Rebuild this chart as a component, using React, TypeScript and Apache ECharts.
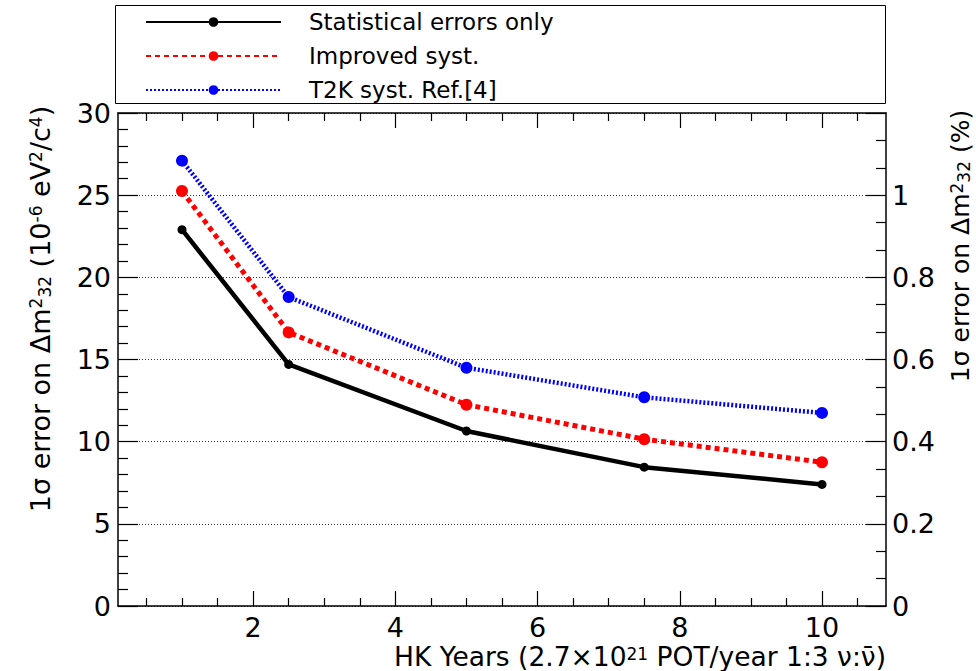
import React, { useEffect, useRef } from 'react';
import * as echarts from 'echarts';

const years = [1, 2.5, 5, 7.5, 10];
const statOnly = [22.9, 14.7, 10.65, 8.45, 7.4];
const improvedSyst = [25.25, 16.65, 12.25, 10.15, 8.75];
const t2kSyst = [27.1, 18.8, 14.5, 12.7, 11.75];
const seriesNames = ['Statistical errors only', 'Improved syst.', 'T2K syst. Ref.[4]'];
const xMajorTicks = [2, 4, 6, 8, 10];
const xMinorTicks = [0.5, 1, 1.5, 2.5, 3, 3.5, 4.5, 5, 5.5, 6.5, 7, 7.5, 8.5, 9, 9.5, 10.5];

const FONT = "'DejaVu Sans', 'Liberation Sans', Arial, sans-serif";
const X_MIN = 0.1;
const X_MAX = 10.9;

const pairs = (ys: number[]) => years.map((x, i) => [x, ys[i]]);

export default function App() {
  const ref = useRef<HTMLDivElement>(null);
  useEffect(() => {
    if (!ref.current) return;
    const chart = echarts.init(ref.current, undefined, { renderer: 'svg' });
    const axisLine = { show: true, lineStyle: { color: '#000', width: 1.5 } };
    const tickStyle = { color: '#000', width: 1.2 };
    const xBase = (position: string) => ({
      type: 'value',
      position,
      min: X_MIN,
      max: X_MAX,
      splitLine: { show: false },
    });
    const rich = {
      sup: { fontSize: 17, verticalAlign: 'top', lineHeight: 6, fontFamily: FONT, fill: '#000' },
      sub: { fontSize: 17, verticalAlign: 'bottom', lineHeight: 6, fontFamily: FONT, fill: '#000' },
    };
    const titleStyle = (fontSize: number, lineHeight: number) => ({
      rich,
      fontSize,
      lineHeight,
      fontFamily: FONT,
      fill: '#000',
      verticalAlign: 'middle',
    });
    const option: any = {
      animation: false,
      backgroundColor: '#fff',
      grid: { left: 118, right: 90, top: 113, bottom: 65, containLabel: false },
      legend: {
        orient: 'vertical',
        left: 145,
        top: 9,
        padding: 0,
        itemWidth: 135,
        itemHeight: 12,
        itemGap: 8,
        data: seriesNames,
        textStyle: { fontSize: 23, fontFamily: FONT, color: '#000', lineHeight: 26, padding: [0, 0, 0, 23] },
      },
      xAxis: [
        {
          ...xBase('bottom'),
          axisLine,
          axisTick: { show: true, inside: true, length: 15, customValues: xMajorTicks, lineStyle: tickStyle },
          axisLabel: { show: true, customValues: xMajorTicks, fontSize: 27, lineHeight: 27, fontFamily: FONT, color: '#000', margin: 8 },
        },
        {
          ...xBase('bottom'),
          axisLine: { show: false },
          axisTick: { show: true, inside: true, length: 8, customValues: xMinorTicks, lineStyle: tickStyle },
          axisLabel: { show: false },
        },
        {
          ...xBase('top'),
          axisLine,
          axisTick: { show: true, inside: true, length: 15, customValues: xMajorTicks, lineStyle: tickStyle },
          axisLabel: { show: false },
        },
        {
          ...xBase('top'),
          axisLine: { show: false },
          axisTick: { show: true, inside: true, length: 8, customValues: xMinorTicks, lineStyle: tickStyle },
          axisLabel: { show: false },
        },
      ],
      yAxis: [
        {
          type: 'value',
          position: 'left',
          min: 0,
          max: 30,
          interval: 5,
          axisLine,
          axisTick: { show: true, inside: true, length: 20, lineStyle: tickStyle },
          minorTick: { show: true, splitNumber: 5, length: 10, lineStyle: tickStyle },
          axisLabel: { fontSize: 27, fontFamily: FONT, color: '#000', margin: 7 },
          splitLine: { show: true, lineStyle: { color: '#333', width: 1, type: [1, 2] } },
        },
        {
          type: 'value',
          position: 'right',
          min: 0,
          max: 1.2,
          interval: 0.2,
          axisLine,
          axisTick: { show: true, inside: true, length: 20, lineStyle: tickStyle },
          minorTick: { show: true, splitNumber: 3, length: 10, lineStyle: tickStyle },
          axisLabel: { fontSize: 27, fontFamily: FONT, color: '#000', margin: 6, showMaxLabel: false },
          splitLine: { show: false },
        },
      ],
      series: [
        {
          name: seriesNames[0],
          type: 'line',
          xAxisIndex: 0,
          yAxisIndex: 0,
          data: pairs(statOnly),
          symbol: 'circle',
          symbolSize: 9,
          itemStyle: { color: '#000' },
          lineStyle: { color: '#000', width: 4.5, type: 'solid' },
          z: 4,
        },
        {
          name: seriesNames[1],
          type: 'line',
          xAxisIndex: 0,
          yAxisIndex: 0,
          data: pairs(improvedSyst),
          symbol: 'circle',
          symbolSize: 12,
          itemStyle: { color: '#ff0000' },
          lineStyle: { color: '#ff0000', width: 5, type: [5, 4] },
          z: 3,
        },
        {
          name: seriesNames[2],
          type: 'line',
          xAxisIndex: 0,
          yAxisIndex: 0,
          data: pairs(t2kSyst),
          symbol: 'circle',
          symbolSize: 12,
          itemStyle: { color: '#0000ff' },
          lineStyle: { color: '#0000ff', width: 4.5, type: [2, 2] },
          z: 2,
        },
      ],
      graphic: [
        {
          type: 'rect',
          z: 0,
          shape: { x: 115.5, y: 5.5, width: 770, height: 98 },
          style: { fill: 'none', stroke: '#000', lineWidth: 1 },
        },
        {
          type: 'text',
          x: 40,
          y: 309,
          rotation: Math.PI / 2,
          style: {
            ...titleStyle(27, 26),
            text: '1σ error on Δm{sup|2}{sub|32} (10{sup|-6} eV{sup|2}/c{sup|4})',
            align: 'center',
          },
        },
        {
          type: 'text',
          x: 960,
          y: 246,
          rotation: Math.PI / 2,
          style: {
            ...titleStyle(25, 24),
            text: '1σ error on Δm{sup|2}{sub|32} (%)',
            align: 'center',
          },
        },
        {
          type: 'text',
          x: 886,
          y: 656,
          style: {
            ...titleStyle(26.5, 22),
            text: 'HK Years (2.7×10{sup|21} POT/year 1:3 ν:ν\u0304)',
            align: 'right',
          },
        },
      ],
    };
    chart.setOption(option);
    return () => chart.dispose();
  }, []);
  return (
    <div
      ref={ref}
      style={{ position: 'absolute', left: 0, top: 0, width: 976, height: 671, background: '#fff' }}
    />
  );
}
